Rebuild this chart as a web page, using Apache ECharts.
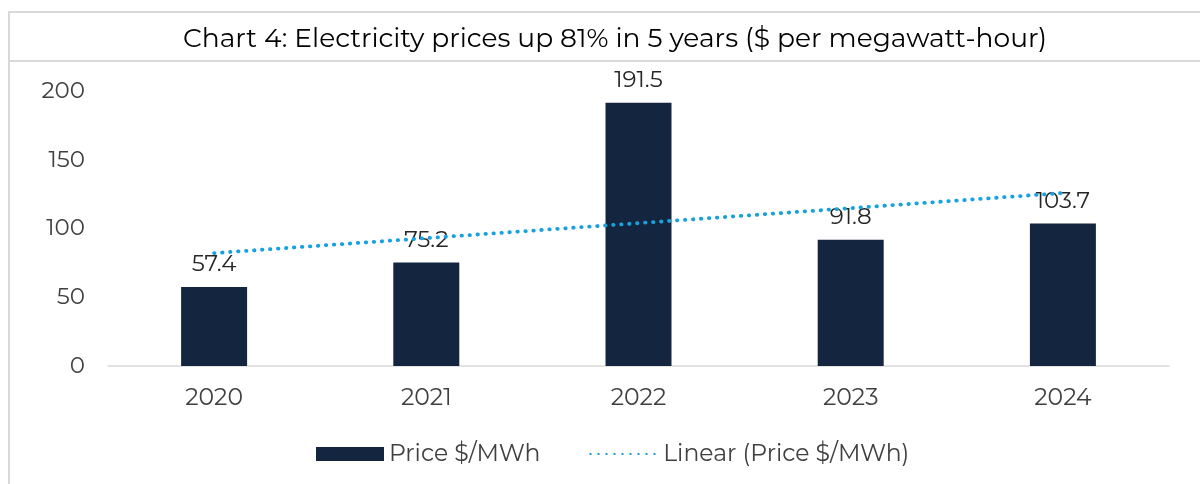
<!DOCTYPE html>
<html>
<head>
<meta charset="utf-8">
<script src="https://cdn.jsdelivr.net/npm/echarts@6/dist/echarts.min.js"></script>
<style>
  html, body { margin: 0; padding: 0; background: #fff; }
  #chart { width: 1200px; height: 484px; }
</style>
</head>
<body>
<div id="chart"></div>
<script>
// data
const years = ['2020', '2021', '2022', '2023', '2024'];
const prices = [57.4, 75.2, 191.5, 91.8, 103.7];
const trend = [82.1, 93.0, 103.9, 114.8, 125.8];
const yTicks = [0, 50, 100, 150, 200];

const font = 'Montserrat, Inter, "Noto Sans", sans-serif';
const chart = echarts.init(document.getElementById('chart'));

chart.setOption({
  animation: false,
  textStyle: { fontFamily: font },
  title: {
    text: 'Chart 4: Electricity prices up 81% in 5 years ($ per megawatt-hour)',
    left: 610,
    textAlign: 'center',
    top: 21,
    textStyle: { fontFamily: font, fontSize: 26.5, fontWeight: 'normal', color: '#000' },
  },
  graphic: [
    {
      type: 'rect',
      shape: { x: 9, y: 12, width: 1200, height: 500 },
      style: { fill: 'none', stroke: '#d9d9d9', lineWidth: 2 },
      silent: true,
    },
    {
      type: 'line',
      shape: { x1: 9, y1: 61, x2: 1200, y2: 61 },
      style: { stroke: '#d9d9d9', lineWidth: 2 },
      silent: true,
    },
  ],
  grid: { left: 108, right: 31, top: 91, bottom: 118 },
  legend: {
    top: 437,
    left: 311,
    itemWidth: 68,
    itemHeight: 14,
    itemGap: 49,
    textStyle: { fontFamily: font, fontSize: 23.5, color: '#404040' },
    data: [
      { name: 'Price $/MWh', icon: 'rect' },
      { name: 'Linear (Price $/MWh)', itemStyle: { opacity: 0 } },
    ],
  },
  xAxis: {
    type: 'category',
    data: years,
    axisLine: { lineStyle: { color: '#d9d9d9', width: 1.5 } },
    axisTick: { show: false },
    axisLabel: { fontFamily: font, fontSize: 23.5, color: '#404040', margin: 20 },
  },
  yAxis: {
    type: 'value',
    min: yTicks[0],
    max: yTicks[yTicks.length - 1],
    interval: 50,
    splitLine: { show: false },
    axisLine: { show: false },
    axisTick: { show: false },
    axisLabel: { fontFamily: font, fontSize: 23, color: '#404040', margin: 23 },
  },
  series: [
    {
      name: 'Price $/MWh',
      type: 'bar',
      data: prices,
      barWidth: 66,
      itemStyle: { color: '#14263f' },
      label: {
        show: true,
        position: 'top',
        distance: 11,
        fontFamily: font,
        fontSize: 23,
        color: '#262626',
      },
    },
    {
      name: 'Linear (Price $/MWh)',
      type: 'line',
      data: trend,
      symbol: 'none',
      z: 3,
      lineStyle: { color: '#17a2de', width: 3.8, type: [0.5, 7.5], cap: 'round' },
      itemStyle: { color: '#17a2de' },
    },
  ],
});
</script>
</body>
</html>
